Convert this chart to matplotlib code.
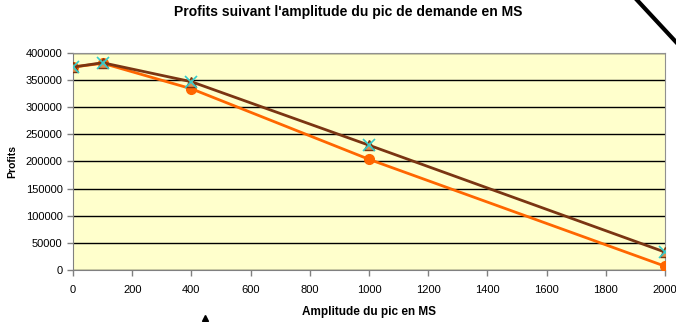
import matplotlib
matplotlib.use("Agg")
from matplotlib import pyplot as plt
from matplotlib.lines import Line2D

plt.rcParams['font.family'] = ['Liberation Sans', 'DejaVu Sans']

# amplitude du pic de demande (MS) et profits
amplitude = [0, 100, 400, 1000, 2000]
profits_a = [374000, 381000, 334000, 204000, 7000]
profits_b = [374000, 382000, 347000, 230000, 33000]
profits_c = [374000, 382000, 347000, 230000, 33000]

xticks = list(range(0, 2001, 200))
yticks = list(range(0, 400001, 50000))

fig = plt.figure(figsize=(6.76, 3.22), dpi=100)
ax = fig.add_axes([0.108, 0.1615, 0.8757, 0.674])
ax.set_facecolor('#FFFFCC')

ax.plot(amplitude, profits_a, color='#FF6600', lw=2, marker='o', ms=7,
        mfc='#FF6600', mec='#FF6600', zorder=3)
ax.plot(amplitude, profits_b, color='#7A3512', lw=2, marker='^', ms=7,
        mfc='#E09050', mec='#7A3512', zorder=4)
ax.plot(amplitude, profits_c, ls='none', marker='x', ms=8, mew=1.2,
        color='#33CCCC', zorder=5)

ax.set_xlim(0, 2000)
ax.set_ylim(0, 400000)
ax.set_xticks(xticks)
ax.set_yticks(yticks)
ax.yaxis.grid(True, color='black', lw=1)
ax.set_axisbelow(True)
ax.tick_params(axis='both', labelsize=8, direction='out', length=4, width=1,
               color='#808080')
ax.tick_params(axis='x', pad=7)
for s in ['top', 'right']:
    ax.spines[s].set_color('#909090')
for s in ['left', 'bottom']:
    ax.spines[s].set_color('#808080')

ax.set_xlabel("Amplitude du pic en MS", fontsize=8.5, fontweight='bold', labelpad=8)
ax.set_ylabel("Profits", fontsize=7.5, fontweight='bold', labelpad=6)
fig.text(0.515, 0.962, "Profits suivant l'amplitude du pic de demande en MS",
         ha='center', va='center', fontsize=10, fontweight='bold')

# traits de la diapositive autour du graphique
fig.add_artist(Line2D([637 / 676, 1.0], [1.0, 1 - 42 / 322], color='black', lw=3))
fig.add_artist(Line2D([205 / 676], [1 - 318 / 322], color='black', marker='^',
                      ms=5, ls='none'))

fig.savefig('out.png', dpi=100)
